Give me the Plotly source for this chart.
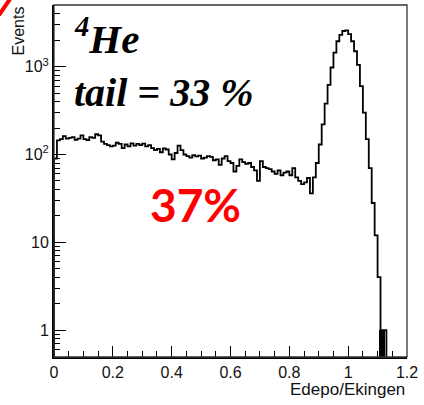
import numpy as np
import plotly.graph_objects as go

# ---------------- data ----------------
bin_width = 0.01
x_start = 0.0
bin_counts = [
    90, 145, 150, 162, 152, 155, 158, 147, 152, 165,
    150, 146, 158, 155, 170, 165, 140, 132, 128, 124,
    126, 136, 132, 118, 130, 124, 134, 126, 132, 128,
    133, 124, 128, 118, 112, 116, 106, 117, 114, 100,
    88, 104, 126, 112, 100, 96, 92, 98, 95, 97,
    90, 92, 96, 94, 86, 88, 76, 90, 96, 84,
    80, 64, 74, 88, 82, 78, 80, 72, 66, 50,
    84, 72, 70, 68, 64, 60, 66, 58, 62, 64,
    58, 70, 55, 50, 46, 48, 54, 36, 55, 80,
    130, 220, 380, 620, 980, 1450, 1950, 2300, 2550, 2600,
    2350, 1950, 1500, 1050, 600, 300, 150, 70, 28, 12,
    4, 1, 1, 0, 0, 0, 0, 0, 0, 0,
]
# narrow densely-filled region at the end of the spectrum
dense_x = [1.115]
dense_y = [1]
dense_w = [0.02]

x_ticks = [0, 0.2, 0.4, 0.6, 0.8, 1, 1.2]
y_tickvals = [1, 10, 100, 1000]
y_ticktext = ["1", "10", "10<sup>2</sup>", "10<sup>3</sup>"]
y_minor = [0.5, 0.6, 0.7, 0.8, 0.9,
           2, 3, 4, 5, 6, 7, 8, 9,
           20, 30, 40, 50, 60, 70, 80, 90,
           200, 300, 400, 500, 600, 700, 800, 900,
           2000, 3000, 4000, 5000]

label_iso = "<b><i><sup>4</sup>He</i></b>"
label_tail = "<b><i>tail = 33 %</i></b>"
label_pct = "<b>37%</b>"
x_title = "Edepo/Ekingen"
y_title = "Events"

# ---------------- build step line ----------------
floor = 1e-3
edges = x_start + bin_width * np.arange(len(bin_counts) + 1)
counts = [c if c > 0 else floor for c in bin_counts]
xs = [edges[0]] + list(edges[:-1]) + [edges[-1]]
ys = [floor] + counts + [counts[-1]]

fig = go.Figure()
fig.add_trace(go.Scatter(x=xs, y=ys, mode="lines", line_shape="hv",
                         line=dict(color="black", width=1.8),
                         hoverinfo="skip", showlegend=False))
fig.add_trace(go.Bar(x=dense_x, y=dense_y, width=dense_w,
                     marker=dict(color="black", line=dict(width=0)),
                     showlegend=False))

W, H = 424, 405
ml, mr, mt, mb = 54, 17, 5, 48
pw, ph = W - ml - mr, H - mt - mb

def px(x):
    return (x - ml) / pw

def py(y):
    return (H - mb - y) / ph

tickfont = dict(family="Liberation Sans", size=16, color="#111111")

fig.update_layout(
    width=W, height=H,
    margin=dict(l=ml, r=mr, t=mt, b=mb),
    paper_bgcolor="white", plot_bgcolor="white",
    showlegend=False,
    xaxis=dict(range=[0, 1.2], tickvals=x_ticks, ticks="inside", ticklen=11,
               tickwidth=1.2, tickcolor="black", showgrid=False, zeroline=False,
               showline=True, linecolor="black", linewidth=2,
               tickfont=tickfont,
               minor=dict(ticks="inside", ticklen=6, tick0=0, dtick=0.05,
                          tickcolor="black", tickwidth=1.2, showgrid=False)),
    yaxis=dict(type="log", range=[-0.307, 3.703], tickvals=y_tickvals,
               ticktext=y_ticktext, ticks="inside", ticklen=12, tickwidth=1.2,
               tickcolor="black", showgrid=False, zeroline=False,
               showline=True, linecolor="black", linewidth=2,
               tickfont=tickfont,
               minor=dict(ticks="inside", ticklen=6, tickvals=y_minor,
                          tickcolor="black", tickwidth=1.2, showgrid=False)),
    bargap=0,
)

# frame (top/right thinner)
fig.add_shape(type="rect", xref="paper", yref="paper", x0=0, x1=1, y0=0, y1=1,
              line=dict(color="#333333", width=1.3), layer="above")

# red corner mark
fig.add_shape(type="line", xref="paper", yref="paper",
              x0=px(-1), y0=py(15), x1=px(10), y1=py(-1),
              line=dict(color="red", width=4))

ann = []
ann.append(dict(text=label_iso, x=px(72), y=py(64), xanchor="left", yanchor="bottom",
                font=dict(family="Liberation Serif", size=41, color="black")))
ann.append(dict(text=label_tail, x=px(72), y=py(92), xanchor="left", yanchor="middle",
                font=dict(family="Liberation Serif", size=40, color="black")))
ann.append(dict(text=label_pct, x=px(195), y=py(204), xanchor="center", yanchor="middle",
                font=dict(family="Lato", size=46, color="#ff0000")))
ann.append(dict(text=x_title, x=1, y=py(389), xanchor="right", yanchor="middle",
                font=dict(family="Liberation Sans", size=17, color="#111111")))
ann.append(dict(text=y_title, x=px(18), y=1, xanchor="center", yanchor="top",
                textangle=-90,
                font=dict(family="Liberation Sans", size=16, color="#111111")))
for a in ann:
    a.update(xref="paper", yref="paper", showarrow=False)
fig.update_layout(annotations=ann)

fig.write_html("out.html")
